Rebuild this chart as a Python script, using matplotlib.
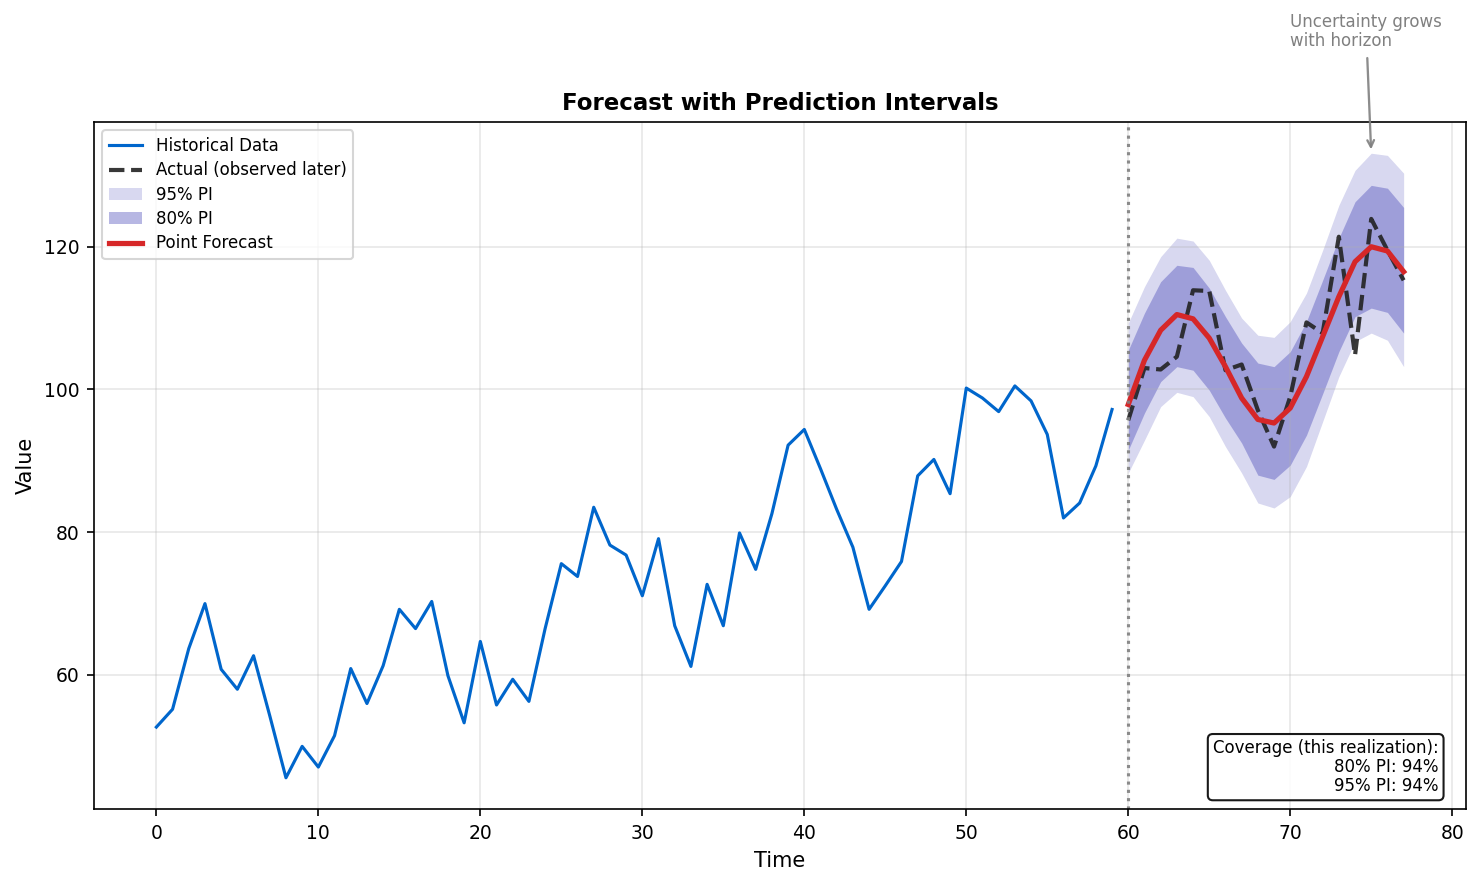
import numpy as np
import matplotlib
matplotlib.use('Agg')
import matplotlib.pyplot as plt

# Datos historicos (t = 0..59)
hist_t = np.arange(0, 60)
hist_vals = [52.7, 55.2, 63.7, 70.0, 60.8, 58.0, 62.7, 54.3, 45.6, 50.0,
             47.1, 51.5, 60.9, 56.0, 61.3, 69.2, 66.5, 70.3, 59.9, 53.3,
             64.7, 55.8, 59.4, 56.3, 66.5, 75.6, 73.8, 83.5, 78.2, 76.8,
             71.1, 79.1, 66.9, 61.2, 72.7, 66.9, 79.9, 74.8, 82.6, 92.2,
             94.4, 88.9, 83.2, 77.9, 69.2, 72.5, 75.9, 87.9, 90.2, 85.4,
             100.2, 98.8, 96.9, 100.5, 98.4, 93.7, 82.0, 84.1, 89.3, 97.2]

# Horizonte de pronostico (t = 60..77)
fc_t = np.arange(60, 78)
actual_vals = [95.7, 103.0, 102.8, 104.6, 113.9, 113.8, 102.7, 103.5, 97.1,
               92.0, 99.0, 109.4, 107.9, 121.4, 104.8, 123.9, 119.5, 115.3]
point_fc = [97.9, 104.1, 108.3, 110.5, 109.9, 107.2, 103.2, 98.8, 95.8,
            95.3, 97.4, 101.8, 107.4, 113.0, 117.9, 120.0, 119.4, 116.5]
pi80_low = [91.5, 96.7, 101.1, 103.2, 102.7, 99.9, 96.0, 92.5, 88.0,
            87.4, 89.4, 93.6, 99.4, 105.3, 110.2, 111.4, 110.8, 107.9]
pi80_high = [105.5, 110.7, 115.1, 117.4, 117.1, 114.2, 110.2, 106.5, 103.7,
             103.2, 105.3, 109.5, 115.3, 121.2, 126.3, 128.6, 128.2, 125.5]
pi95_low = [88.3, 92.9, 97.6, 99.6, 99.0, 96.2, 92.0, 88.3, 84.1,
            83.4, 85.0, 89.2, 95.5, 101.8, 106.7, 107.9, 106.9, 103.2]
pi95_high = [109.3, 114.4, 118.6, 121.2, 120.8, 118.1, 113.9, 110.0, 107.6,
             107.3, 109.5, 113.5, 119.5, 125.8, 130.7, 133.1, 132.8, 130.3]

cov80 = 94
cov95 = 94

fig = plt.figure(figsize=(1482 / 150, 886 / 150), dpi=150)
ax = fig.add_axes([94 / 1482, 1 - 809 / 886, (1466 - 94) / 1482, (809 - 122) / 886])

pi_color = '#3c3cb4'

ax.plot(hist_t, hist_vals, color='#0066CC', lw=1.5, label='Historical Data')
ax.plot(fc_t, actual_vals, color='#222222', lw=2, ls='--', alpha=0.9,
        label='Actual (observed later)')
ax.fill_between(fc_t, pi95_low, pi95_high, color=pi_color, alpha=0.2,
                lw=0, label='95% PI')
ax.fill_between(fc_t, pi80_low, pi80_high, color=pi_color, alpha=0.37,
                lw=0, label='80% PI')
ax.plot(fc_t, point_fc, color='#d62728', lw=2.5, label='Point Forecast')

ax.axvline(60, color='gray', ls=':', lw=1.5, alpha=0.9)

ax.set_title('Forecast with Prediction Intervals', fontsize=11, fontweight='bold')
ax.set_xlabel('Time', fontsize=10)
ax.set_ylabel('Value', fontsize=10)
ax.tick_params(labelsize=9)
ax.grid(True, alpha=0.3)
ax.legend(loc='upper left', fontsize=8, labelspacing=0.38)

ax.annotate('Uncertainty grows\nwith horizon', xy=(75, 133.05), xytext=(70, 147.6),
            textcoords='data', ha='left', va='bottom', fontsize=8, color='gray',
            linespacing=1.05, annotation_clip=False,
            arrowprops=dict(arrowstyle='->', color='gray', lw=1.1, alpha=0.9))

ax.text(0.98, 0.02,
        f'Coverage (this realization):\n80% PI: {cov80}%\n95% PI: {cov95}%',
        transform=ax.transAxes, ha='right', va='bottom', fontsize=8,
        linespacing=1.08,
        bbox=dict(boxstyle='round', facecolor='white', alpha=0.9))

fig.savefig('out.png', dpi=150)
